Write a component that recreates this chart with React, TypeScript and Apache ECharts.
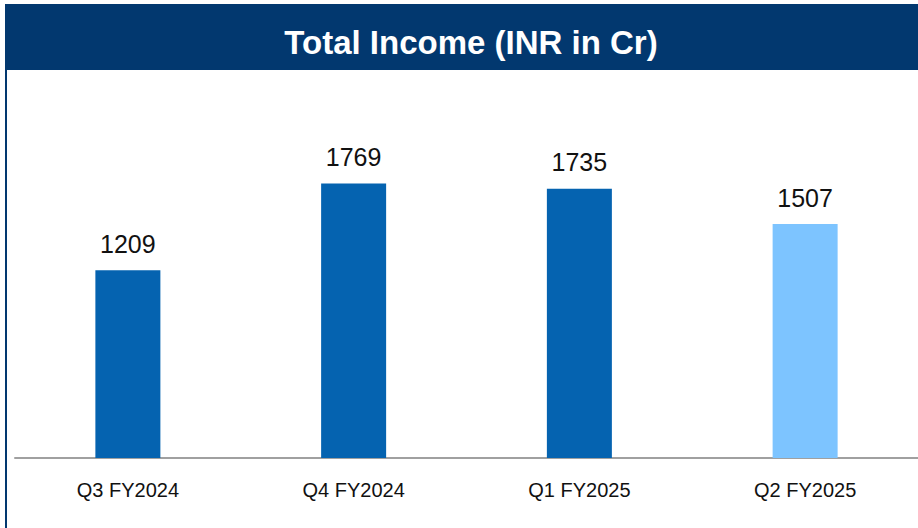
import React, { useEffect, useRef } from "react";
import * as echarts from "echarts";

const categories = ["Q3 FY2024", "Q4 FY2024", "Q1 FY2025", "Q2 FY2025"];
const incomeValues = [1209, 1769, 1735, 1507];
const barColors = ["#0563B0", "#0563B0", "#0563B0", "#7DC4FF"];
const titleText = "Total Income (INR in Cr)";

const FONT = "'Liberation Sans', Arial, Helvetica, sans-serif";

export default function App() {
  const ref = useRef<HTMLDivElement>(null);
  useEffect(() => {
    if (!ref.current) return;
    const chart = echarts.init(ref.current, undefined, { renderer: "svg" });
    chart.setOption({
      animation: false,
      backgroundColor: "#ffffff",
      grid: { left: 15, width: 906, top: 70, height: 388, containLabel: false },
      xAxis: {
        type: "category",
        data: categories,
        axisLine: { show: true, lineStyle: { color: "#A0A0A0", width: 2 } },
        axisTick: { show: false },
        axisLabel: {
          color: "#111111",
          fontSize: 20,
          fontFamily: FONT,
          margin: 22,
        },
      },
      yAxis: {
        type: "value",
        min: 0,
        max: 2500,
        show: false,
        splitLine: { show: false },
      },
      series: [
        {
          type: "bar",
          barWidth: 65,
          data: incomeValues.map((v, i) => ({ value: v, itemStyle: { color: barColors[i] } })),
          label: {
            show: true,
            position: "top",
            distance: 14,
            color: "#111111",
            fontSize: 25,
            fontFamily: FONT,
          },
        },
      ],
      graphic: [
        {
          type: "rect",
          shape: { x: 5, y: 4, width: 913, height: 66 },
          style: { fill: "#02386F" },
          z: 10,
        },
        {
          type: "rect",
          shape: { x: 5, y: 70, width: 2, height: 458 },
          style: { fill: "#02386F" },
          z: 10,
        },
        {
          type: "text",
          x: 471,
          y: 42,
          style: {
            text: titleText,
            fill: "#ffffff",
            fontSize: 33,
            fontWeight: "bold",
            fontFamily: FONT,
            textAlign: "center",
            textVerticalAlign: "middle",
          },
          z: 11,
        },
      ],
    });
    return () => chart.dispose();
  }, []);
  return (
    <div
      ref={ref}
      style={{ position: "fixed", left: 0, top: 0, width: 918, height: 528 }}
    />
  );
}
